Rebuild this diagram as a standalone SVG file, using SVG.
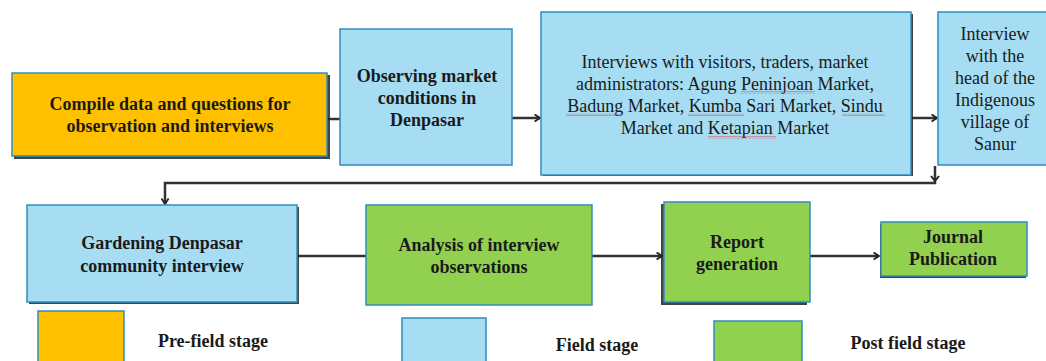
<svg xmlns="http://www.w3.org/2000/svg" width="1046" height="361" viewBox="0 0 1046 361">
<defs>
<style>
.box{stroke:#2F8DBE;stroke-width:1.5}
.sh{fill:#222;opacity:0.85}
.or{fill:#FFC000}
.bl{fill:#A6DDF3}
.gr{fill:#92D050}
.t{font-family:"Liberation Serif","Times New Roman",serif;font-size:18px;fill:#1a1a1a;text-anchor:middle}
.b{font-weight:bold}
.c{fill:none;stroke:#333;stroke-width:2.5}
.wv{fill:url(#wave)}
</style>
<marker id="arr" viewBox="0 0 10 10" refX="8" refY="5" markerWidth="9" markerHeight="9" markerUnits="userSpaceOnUse" orient="auto">
<path d="M2,1 L8,5 L2,9" fill="none" stroke="#222" stroke-width="2"/>
</marker>
<pattern id="wave" width="4" height="3" patternUnits="userSpaceOnUse">
<path d="M0,2.5 L2,0.5 L4,2.5" fill="none" stroke="#E03030" stroke-width="0.8"/>
</pattern>
</defs>
<rect width="1046" height="361" fill="#fff"/>
<g id="connectors">
<path class="c" d="M328,119 H340"/>
<path class="c" d="M512,118 H540" marker-end="url(#arr)"/>
<path class="c" d="M911,118 H937" marker-end="url(#arr)"/>
<path class="c" d="M935,166 V183 H165 V204" marker-end="url(#arr)"/>
<path d="M931,176 L935,181 L939,176" fill="none" stroke="#222" stroke-width="2"/>
<path class="c" d="M297,256 H366"/>
<path class="c" d="M592,256 H662" marker-end="url(#arr)"/>
<path class="c" d="M810,256 H879" marker-end="url(#arr)"/>
</g>
<g id="n1">
<rect class="sh" x="14" y="75" width="316" height="84"/>
<rect class="box or" x="12" y="73" width="315" height="83"/>
<text class="t b" x="170" y="110">Compile data and questions for</text>
<text class="t b" x="170" y="132">observation and interviews</text>
</g>
<g id="n2">
<rect class="box bl" x="340" y="29" width="172" height="136"/>
<text class="t b" x="427" y="82">Observing market</text>
<text class="t b" x="427" y="104">conditions in</text>
<text class="t b" x="427" y="126">Denpasar</text>
</g>
<g id="n3">
<rect class="sh" x="543" y="14" width="370" height="162"/>
<rect class="box bl" x="541" y="12" width="370" height="163"/>
<text class="t" x="725" y="68">Interviews with visitors, traders, market</text>
<text class="t" x="725" y="90">administrators: Agung Peninjoan Market,</text>
<text class="t" x="725" y="112">Badung Market, Kumba Sari Market, Sindu</text>
<text class="t" x="725" y="134">Market and Ketapian Market</text>
<rect class="wv" x="741" y="91" width="74" height="3"/>
<rect class="wv" x="566" y="113" width="56" height="3"/>
<rect class="wv" x="688" y="113" width="56" height="3"/>
<rect class="wv" x="842" y="113" width="43" height="3"/>
<rect class="wv" x="708" y="136" width="68" height="3"/>
</g>
<g id="n4">
<rect class="box bl" x="938" y="12" width="112" height="153"/>
<text class="t" x="995" y="40">Interview</text>
<text class="t" x="995" y="62">with the</text>
<text class="t" x="995" y="84">head of the</text>
<text class="t" x="995" y="106">Indigenous</text>
<text class="t" x="995" y="128">village of</text>
<text class="t" x="995" y="150">Sanur</text>
</g>
<g id="n5">
<rect class="sh" x="29" y="207" width="270" height="97"/>
<rect class="box bl" x="27" y="205" width="270" height="97"/>
<text class="t b" x="162" y="249">Gardening Denpasar</text>
<text class="t b" x="162" y="272">community interview</text>
</g>
<g id="n6">
<rect class="box gr" x="366" y="205" width="226" height="100"/>
<text class="t b" x="479" y="251">Analysis of interview</text>
<text class="t b" x="479" y="273">observations</text>
</g>
<g id="n7">
<rect class="sh" x="661" y="204" width="146" height="101"/>
<rect class="box gr" x="664" y="202" width="146" height="100"/>
<text class="t b" x="737" y="248">Report</text>
<text class="t b" x="737" y="270">generation</text>
</g>
<g id="n8">
<rect class="sh" x="880" y="224" width="146" height="54"/>
<rect class="box gr" x="881" y="222" width="146" height="54"/>
<text class="t b" x="953" y="243">Journal</text>
<text class="t b" x="953" y="265">Publication</text>
</g>
<g id="legend">
<rect class="box or" x="38" y="311" width="86" height="60"/>
<text class="t b" x="213" y="347">Pre-field stage</text>
<rect class="box bl" x="402" y="318" width="84" height="60"/>
<text class="t b" x="597" y="351">Field stage</text>
<rect class="box gr" x="714" y="321" width="88" height="60"/>
<text class="t b" x="908" y="349">Post field stage</text>
</g>
</svg>
